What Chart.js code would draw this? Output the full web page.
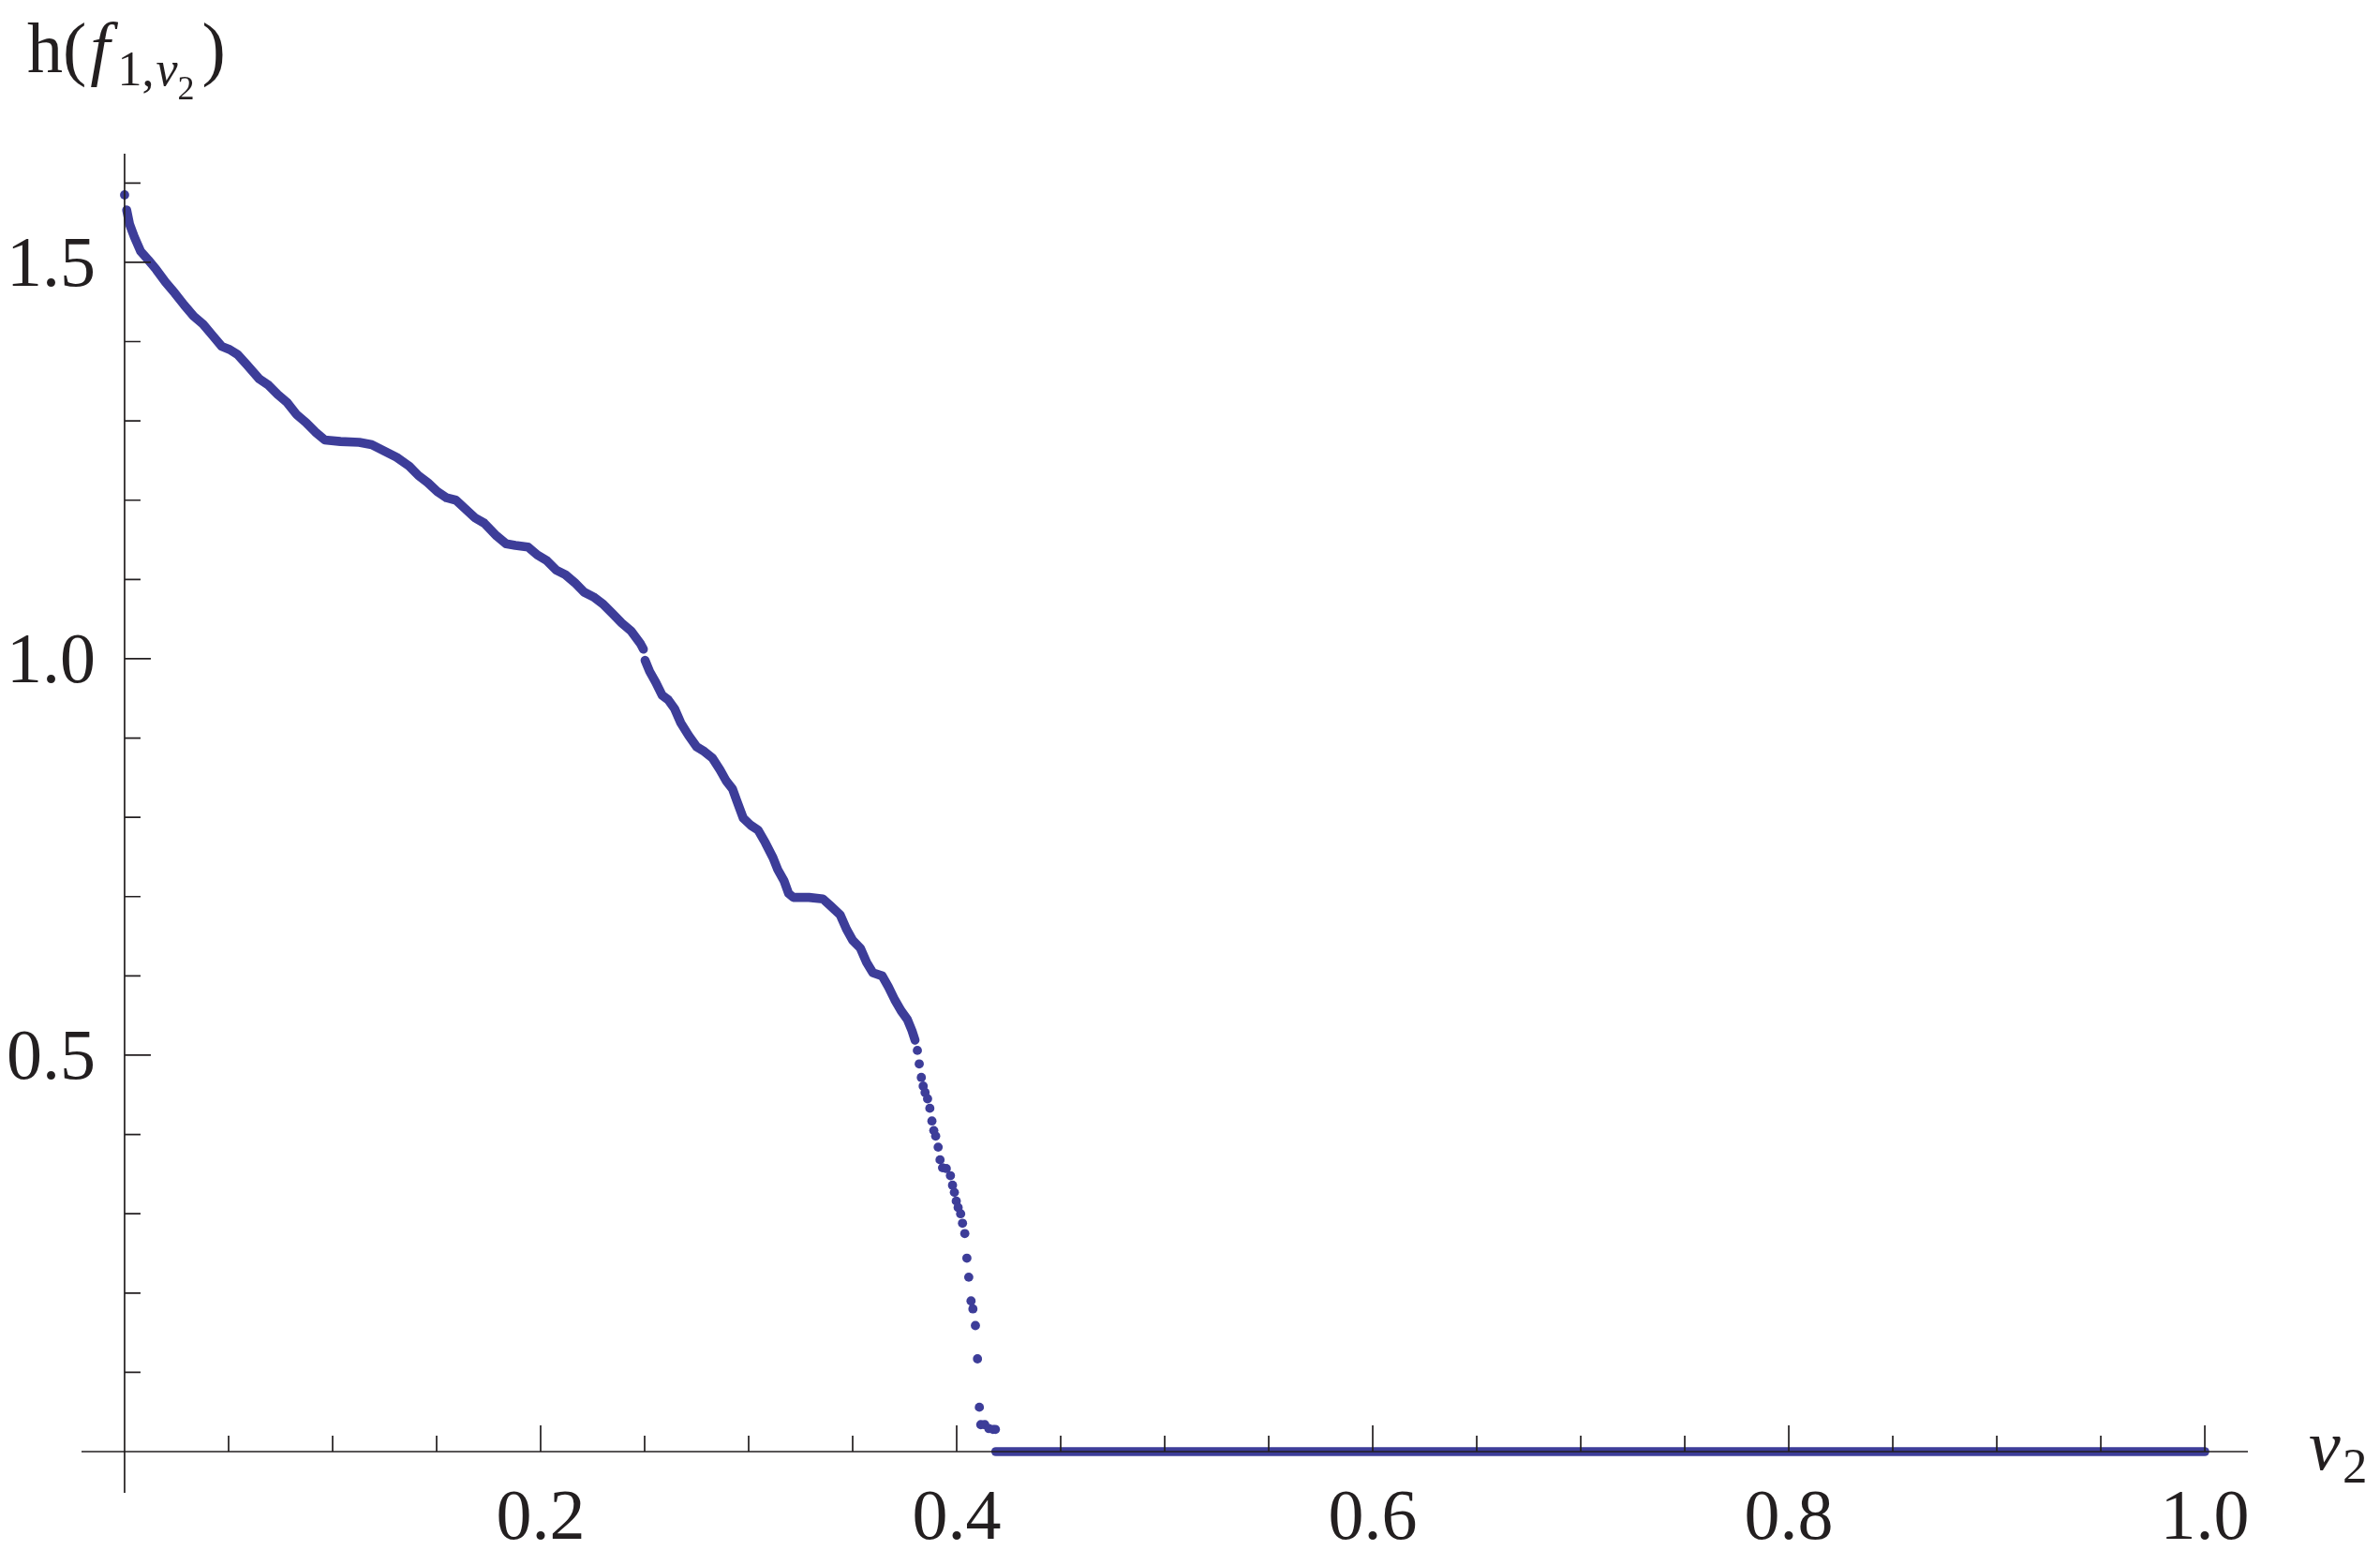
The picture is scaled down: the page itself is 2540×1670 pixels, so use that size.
<!DOCTYPE html>
<html>
<head>
<meta charset="utf-8">
<script src="https://cdn.jsdelivr.net/npm/chart.js@4.4.1/dist/chart.umd.min.js"></script>
<style>
  html, body { margin: 0; padding: 0; background: #ffffff; }
  canvas { display: block; }
</style>
</head>
<body>
<canvas id="hPlot" width="2540" height="1670"></canvas>
<script>
// ===== DATA =====
// dense part of the curve, before the small break near v2 = 0.25
const upperX = [0.001, 0.0024, 0.0047, 0.0077, 0.0114, 0.0152, 0.0197, 0.0242, 0.0287, 0.0332,
  0.0377, 0.0422, 0.0467, 0.0505, 0.0542, 0.0587, 0.0647, 0.0692, 0.0737, 0.0782,
  0.0827, 0.0872, 0.0917, 0.0962, 0.1038, 0.1128, 0.1188, 0.1248, 0.1308, 0.1368,
  0.1413, 0.1458, 0.1503, 0.1548, 0.1593, 0.1638, 0.1683, 0.1729, 0.1788, 0.1834,
  0.1879, 0.1939, 0.1984, 0.2029, 0.2074, 0.2119, 0.2164, 0.2209, 0.2254, 0.2300,
  0.2345, 0.2390, 0.2435, 0.2480, 0.2494];
const upperY = [1.566, 1.548, 1.532, 1.514, 1.503, 1.491, 1.475, 1.461, 1.446, 1.432,
  1.422, 1.408, 1.394, 1.390, 1.384, 1.371, 1.353, 1.345, 1.333, 1.323,
  1.308, 1.298, 1.286, 1.276, 1.274, 1.273, 1.270, 1.262, 1.254, 1.243,
  1.231, 1.222, 1.211, 1.203, 1.200, 1.189, 1.178, 1.171, 1.155, 1.145,
  1.143, 1.141, 1.131, 1.124, 1.112, 1.106, 1.096, 1.084, 1.078, 1.069,
  1.057, 1.045, 1.035, 1.019, 1.012];

// dense part after the break
const lowerX = [0.2502, 0.2524, 0.2554, 0.2584, 0.2614, 0.2644, 0.2674, 0.2712, 0.2750, 0.2787,
  0.2825, 0.2862, 0.2892, 0.2922, 0.2944, 0.2974, 0.3010, 0.3045, 0.3080, 0.3117,
  0.3140, 0.3170, 0.3192, 0.3215, 0.3290, 0.3357, 0.3395, 0.3440, 0.3470, 0.3500,
  0.3537, 0.3567, 0.3597, 0.3642, 0.3672, 0.3702, 0.3733, 0.3763, 0.3785, 0.3800];
const lowerY = [0.998, 0.984, 0.970, 0.954, 0.948, 0.937, 0.919, 0.903, 0.889, 0.883,
  0.875, 0.860, 0.846, 0.836, 0.820, 0.799, 0.790, 0.784, 0.768, 0.749,
  0.734, 0.720, 0.704, 0.699, 0.699, 0.697, 0.688, 0.677, 0.659, 0.645,
  0.635, 0.617, 0.604, 0.600, 0.586, 0.570, 0.556, 0.545, 0.531, 0.519];

// separate dots: first value and the steep drop
const dropX = [0.0, 0.3811, 0.3820, 0.3830, 0.3839, 0.3848, 0.3860, 0.3871, 0.3881, 0.3890,
  0.3899, 0.3911, 0.3920, 0.3932, 0.3950, 0.3970, 0.3980, 0.3989, 0.3998, 0.4007,
  0.4019, 0.4028, 0.4039, 0.4049, 0.4058, 0.4069, 0.4078, 0.4090, 0.4100, 0.4109,
  0.4116, 0.4135, 0.4155, 0.4175, 0.4186];
const dropY = [1.585, 0.506, 0.489, 0.472, 0.461, 0.453, 0.445, 0.433, 0.417, 0.405,
  0.398, 0.384, 0.368, 0.358, 0.357, 0.348, 0.336, 0.327, 0.316, 0.308,
  0.300, 0.288, 0.275, 0.244, 0.220, 0.190, 0.180, 0.159, 0.117, 0.056,
  0.034, 0.034, 0.029, 0.028, 0.028];

// zero values from the drop up to v2 = 1
const zeroX = [0.4188, 1.0];
const zeroY = [0, 0];

// axes
const xMajorTicks = [0.2, 0.4, 0.6, 0.8, 1.0];
const xTickLabels = ["0.2", "0.4", "0.6", "0.8", "1.0"];
const xMinorTicks = [0.05, 0.1, 0.15, 0.25, 0.3, 0.35, 0.45, 0.5, 0.55, 0.65, 0.7, 0.75, 0.85, 0.9, 0.95];
const yMajorTicks = [0.5, 1.0, 1.5];
const yTickLabels = ["0.5", "1.0", "1.5"];
const yMinorTicks = [0.1, 0.2, 0.3, 0.4, 0.6, 0.7, 0.8, 0.9, 1.1, 1.2, 1.3, 1.4, 1.6];

const dotColor = "#3d3d99";
const axisColor = "#231f20";
const serif = "'Liberation Serif', 'Times New Roman', serif";

function pairs(xs, ys) {
    return xs.map((x, i) => ({ x: x, y: ys[i] }));
}

// ===== AXES THROUGH THE ORIGIN =====
const originAxes = {
    id: "originAxes",
    afterDatasetsDraw(chart) {
        const ctx = chart.ctx;
        const area = chart.chartArea;
        const xs = chart.scales.x;
        const ys = chart.scales.y;
        const x0 = xs.getPixelForValue(0);
        const y0 = ys.getPixelForValue(0);

        ctx.save();
        ctx.strokeStyle = axisColor;
        ctx.lineWidth = 1.7;
        ctx.beginPath();
        ctx.moveTo(area.left, y0);
        ctx.lineTo(area.right, y0);
        ctx.moveTo(x0, area.top);
        ctx.lineTo(x0, area.bottom);

        xMajorTicks.forEach(v => {
            const px = xs.getPixelForValue(v);
            ctx.moveTo(px, y0);
            ctx.lineTo(px, y0 - 28);
        });
        xMinorTicks.forEach(v => {
            const px = xs.getPixelForValue(v);
            ctx.moveTo(px, y0);
            ctx.lineTo(px, y0 - 17);
        });
        yMajorTicks.forEach(v => {
            const py = ys.getPixelForValue(v);
            ctx.moveTo(x0, py);
            ctx.lineTo(x0 + 28, py);
        });
        yMinorTicks.forEach(v => {
            const py = ys.getPixelForValue(v);
            ctx.moveTo(x0, py);
            ctx.lineTo(x0 + 17, py);
        });
        ctx.stroke();

        // tick labels
        ctx.fillStyle = axisColor;
        ctx.font = "76px " + serif;
        ctx.textBaseline = "alphabetic";
        ctx.textAlign = "center";
        xMajorTicks.forEach((v, i) => {
            ctx.fillText(xTickLabels[i], xs.getPixelForValue(v), y0 + 93);
        });
        ctx.textAlign = "right";
        yMajorTicks.forEach((v, i) => {
            ctx.fillText(yTickLabels[i], x0 - 31, ys.getPixelForValue(v) + 25);
        });

        // axis label v2
        ctx.textAlign = "left";
        ctx.font = "italic 76px " + serif;
        ctx.fillText("v", 2464, 1568);
        ctx.font = "53px " + serif;
        ctx.fillText("2", 2500, 1582);

        // axis label h(f_{1,v_2})
        let cx = 29;
        const put = (txt, font, base) => {
            ctx.font = font;
            ctx.fillText(txt, cx, base);
            cx += ctx.measureText(txt).width;
        };
        put("h(", "76px " + serif, 77);
        cx += 4;
        put("f", "italic 76px " + serif, 77);
        cx += 8;
        put("1,", "52px " + serif, 91);
        cx += 2;
        put("v", "italic 52px " + serif, 91);
        put("2", "36px " + serif, 106);
        cx += 8;
        put(")", "76px " + serif, 77);
        ctx.restore();
    }
};

const lineStyle = {
    showLine: true,
    borderColor: dotColor,
    borderWidth: 9.6,
    borderCapStyle: "round",
    borderJoinStyle: "round",
    pointRadius: 0,
    pointHoverRadius: 0,
    tension: 0,
    fill: false
};

new Chart(document.getElementById("hPlot"), {
    type: "scatter",
    data: {
        datasets: [
            Object.assign({ label: "upper", data: pairs(upperX, upperY) }, lineStyle),
            Object.assign({ label: "lower", data: pairs(lowerX, lowerY) }, lineStyle),
            Object.assign({ label: "zero", data: pairs(zeroX, zeroY) }, lineStyle),
            {
                label: "drop",
                data: pairs(dropX, dropY),
                showLine: false,
                pointRadius: 4.9,
                pointBorderWidth: 0,
                pointBackgroundColor: dotColor,
                backgroundColor: dotColor
            }
        ]
    },
    options: {
        responsive: false,
        animation: false,
        devicePixelRatio: 1,
        layout: { padding: { left: 87, right: 141, top: 164, bottom: 77 } },
        scales: {
            x: { type: "linear", min: -0.0207, max: 1.0207, display: false },
            y: { type: "linear", min: -0.052, max: 1.637, display: false }
        },
        plugins: {
            legend: { display: false },
            tooltip: { enabled: false }
        }
    },
    plugins: [originAxes]
});
</script>
</body>
</html>
